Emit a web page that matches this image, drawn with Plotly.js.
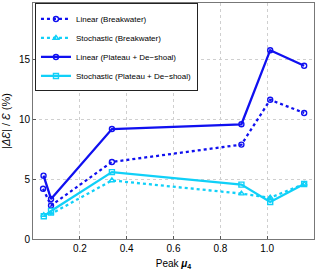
<!DOCTYPE html>
<html><head><meta charset="utf-8">
<script src="https://cdn.plot.ly/plotly-3.0.1.min.js"></script>
<style>html,body{margin:0;padding:0;background:#fff;}#c{width:315px;height:271px;}</style>
</head><body><div id="c"></div>
<script>
const seriesNames = ["Linear (Breakwater)", "Stochastic (Breakwater)", "Linear (Plateau + De\u2212shoal)", "Stochastic (Plateau + De\u2212shoal)"];
const xLinBW = [0.043, 0.077, 0.337, 0.890, 1.013, 1.158];
const yLinBW = [4.2, 2.8, 6.45, 7.9, 11.65, 10.55];
const xStoBW = [0.046, 0.077, 0.337, 0.890, 1.013, 1.158];
const yStoBW = [2.0, 2.1, 4.9, 3.8, 3.45, 4.6];
const xLinPl = [0.045, 0.077, 0.337, 0.890, 1.013, 1.158];
const yLinPl = [5.3, 3.35, 9.2, 9.6, 15.8, 14.5];
const xStoPl = [0.046, 0.077, 0.337, 0.890, 1.013, 1.158];
const yStoPl = [1.9, 2.35, 5.6, 4.55, 3.1, 4.6];
const xTicks = [0.2, 0.4, 0.6, 0.8, 1.0];
const yTicks = [0, 5, 10, 15];

const blue = '#1010f0', cyan = '#10d0f8';
const mk = (sym, col) => ({symbol: sym, size: 5, color: col, line: {color: col, width: 1.4}});
const traces = [
  {x: xLinBW, y: yLinBW, name: seriesNames[0], mode: 'lines+markers', line: {color: blue, width: 2.3, dash: 'dot'}, marker: mk('circle-open', blue)},
  {x: xStoBW, y: yStoBW, name: seriesNames[1], mode: 'lines+markers', line: {color: cyan, width: 2.3, dash: 'dot'}, marker: mk('triangle-up-open', cyan)},
  {x: xLinPl, y: yLinPl, name: seriesNames[2], mode: 'lines+markers', line: {color: blue, width: 2.3}, marker: mk('circle-open', blue)},
  {x: xStoPl, y: yStoPl, name: seriesNames[3], mode: 'lines+markers', line: {color: cyan, width: 2.3}, marker: mk('square-open', cyan)}
];
const layout = {
  width: 315, height: 271,
  margin: {l: 33, r: 1, t: 3, b: 32},
  paper_bgcolor: '#fff', plot_bgcolor: '#fff',
  font: {family: 'Liberation Sans, Arial, sans-serif', size: 10, color: '#000'},
  showlegend: true,
  legend: {x: 0.007, y: 0.998, xanchor: 'left', yanchor: 'top', bgcolor: '#fff', bordercolor: '#222', borderwidth: 1,
           font: {size: 8}, tracegroupgap: 0, itemwidth: 30},
  xaxis: {range: [0, 1.2], tickvals: xTicks, ticktext: xTicks.map(v => v.toFixed(1)), ticks: 'inside', ticklen: 3,
          tickcolor: '#555', showline: true, linecolor: '#777', linewidth: 1, mirror: true,
          showgrid: true, gridcolor: '#cfcfcf', griddash: 'dot', gridwidth: 1, zeroline: false,
          title: {text: 'Peak <b><i>\u03bc</i><sub>4</sub></b>', font: {size: 10}, standoff: 6}},
  yaxis: {range: [0, 19.75], tickvals: yTicks, ticks: 'inside', ticklen: 3,
          tickcolor: '#555', showline: true, linecolor: '#777', linewidth: 1, mirror: true,
          showgrid: true, gridcolor: '#cfcfcf', griddash: 'dot', gridwidth: 1, zeroline: false,
          title: {text: '|<i>\u0394\u0190</i>| / <i>\u0190</i> (%)', font: {size: 11}, standoff: 6}}
};
Plotly.newPlot('c', traces, layout, {displayModeBar: false, staticPlot: true});
</script></body></html>
